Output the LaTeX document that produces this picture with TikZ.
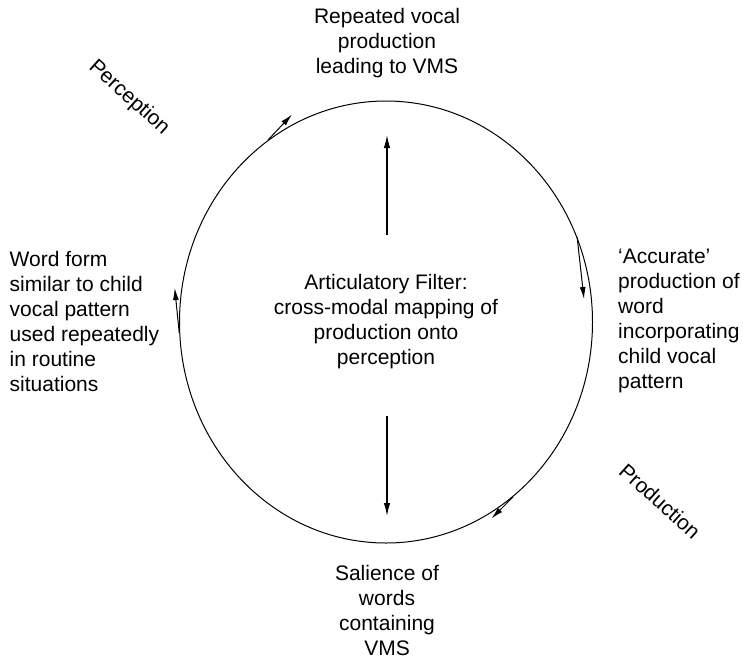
\documentclass[tikz,border=0pt]{standalone}
\usepackage{fontspec}
\setmainfont{Liberation Sans}
\usetikzlibrary{positioning, calc, shapes.geometric, arrows.meta}
\tikzset{txt/.style={font=\fontsize{21}{25}\selectfont, inner sep=0pt, align=center}}
\tikzset{txtl/.style={txt, align=left, anchor=west}}
\tikzset{side/.style={txt, rotate=-42}}
\tikzset{loopell/.style={txt, draw, ellipse, minimum width=413, minimum height=442, line width=1pt}}
\tikzset{arr/.style={draw, -{Latex[length=13pt,width=6.5pt]}, line width=1.3pt}}
\tikzset{arr1/.style={draw, -{Latex[length=12pt,width=6pt]}, line width=1pt}}

\begin{document}
\begin{tikzpicture}[x=1pt, y=-1pt]
	\useasboundingbox (0,0) rectangle (743,662);
	\node[loopell] (AF) at (386,322) {Articulatory Filter:\\cross-modal mapping of\\production onto\\perception};
	\node[txt] (RV) at (387,43) {Repeated vocal\\production\\leading to VMS};
	\node[txtl] (AP) at (618,321) {`Accurate'\\production of\\word\\incorporating\\child vocal\\pattern};
	\node[txt] (SW) at (387,610) {Salience of\\words\\containing\\VMS};
	\node[txtl] (WF) at (9.5,321) {Word form\\similar to child\\vocal pattern\\used repeatedly\\in routine\\situations};
	\node[side] (P) at (129,98) {Perception};
	\node[side] (Q) at (660,501) {Production};
	% arrows in the middle
	\coordinate (U0) at (387,235);
	\coordinate (U1) at (387,135);
	\coordinate (D0) at (387,416);
	\coordinate (D1) at (387,516);
	\draw[arr] (U0) -- (U1);
	\draw[arr] (D0) -- (D1);
	% arrows along the loop
	\coordinate (T1) at (292,114.5);
	\coordinate (R1) at (584,299);
	\coordinate (B1) at (491.5,518.5);
	\coordinate (L1) at (174.7,288);
	\draw[arr1] (AF.123) -- (T1);
	\draw[arr1] (AF.24) -- (R1);
	\draw[arr1] (AF.306) -- (B1);
	\draw[arr1] (AF.183) -- (L1);
\end{tikzpicture}
\end{document}
